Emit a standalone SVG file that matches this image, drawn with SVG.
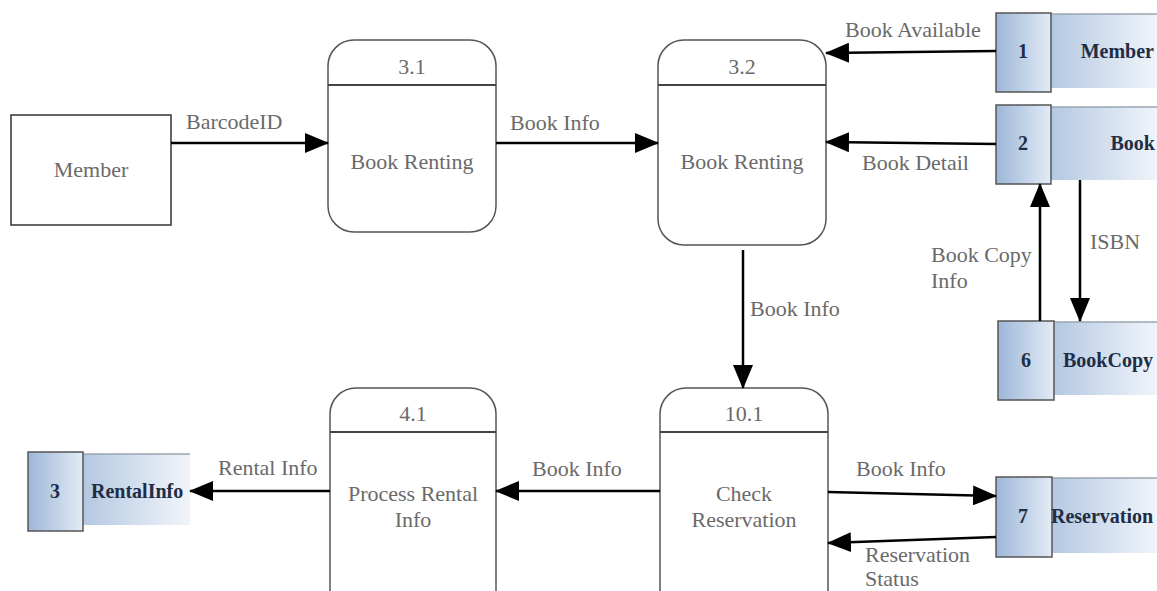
<svg xmlns="http://www.w3.org/2000/svg" width="1157" height="591" viewBox="0 0 1157 591">
<defs>
<linearGradient id="gs" x1="0" y1="0" x2="1" y2="0"><stop offset="0" stop-color="#9db7d8"/><stop offset="1" stop-color="#e3ebf5"/></linearGradient>
<linearGradient id="gl" x1="0" y1="0" x2="1" y2="0"><stop offset="0" stop-color="#b4c8e2"/><stop offset="1" stop-color="#f1f5fa"/></linearGradient>
<marker id="ah" markerWidth="24" markerHeight="20" refX="23" refY="10" orient="auto" markerUnits="userSpaceOnUse"><path d="M0,0 L24,10 L0,20 Z" fill="#000"/></marker>
<style>
.t{font-family:'Liberation Serif','Times New Roman','DejaVu Serif',serif;font-size:22px;fill:#6a6a6a}
.s{font-family:'Liberation Serif','Times New Roman','DejaVu Serif',serif;font-size:20px;font-weight:bold;fill:#1f2d45}
.p{fill:#fff;stroke:#555;stroke-width:1.5}
.d{stroke:#444;stroke-width:2}
.c{stroke:#000;stroke-width:2.5;fill:none;marker-end:url(#ah)}
.sb{fill:url(#gs);stroke:#555;stroke-width:1.5}
.sl{fill:url(#gl)}
.st{stroke:#9aa4b0;stroke-width:1.5}
</style>
</defs>
<rect width="1157" height="591" fill="#fff"/>
<g id="member">
<rect x="11" y="115" width="160" height="110" fill="#fff" stroke="#333" stroke-width="1.5"/>
<text class="t" x="91" y="177" text-anchor="middle">Member</text>
</g>
<g id="p31">
<rect class="p" x="328" y="40" width="168" height="192" rx="26"/>
<line class="d" x1="328" y1="85" x2="496" y2="85"/>
<text class="t" x="412" y="74" text-anchor="middle">3.1</text>
<text class="t" x="412" y="169" text-anchor="middle">Book Renting</text>
</g>
<g id="p32">
<rect class="p" x="658" y="40" width="168" height="205" rx="26"/>
<line class="d" x1="658" y1="85" x2="826" y2="85"/>
<text class="t" x="742" y="74" text-anchor="middle">3.2</text>
<text class="t" x="742" y="169" text-anchor="middle">Book Renting</text>
</g>
<g id="p41">
<rect class="p" x="330" y="388" width="166" height="240" rx="26"/>
<line class="d" x1="330" y1="432" x2="496" y2="432"/>
<text class="t" x="413" y="421" text-anchor="middle">4.1</text>
<text class="t" x="413" y="501" text-anchor="middle">Process Rental</text>
<text class="t" x="413" y="527" text-anchor="middle">Info</text>
</g>
<g id="p101">
<rect class="p" x="660" y="388" width="168" height="240" rx="26"/>
<line class="d" x1="660" y1="432" x2="828" y2="432"/>
<text class="t" x="744" y="421" text-anchor="middle">10.1</text>
<text class="t" x="744" y="501" text-anchor="middle">Check</text>
<text class="t" x="744" y="527" text-anchor="middle">Reservation</text>
</g>
<g id="s1">
<rect class="sl" x="1051" y="14" width="106" height="74"/>
<line class="st" x1="1051" y1="14" x2="1157" y2="14"/>
<rect class="sb" x="996" y="13" width="55" height="79"/>
<text class="s" x="1023" y="58" text-anchor="middle">1</text>
<text class="s" x="1154" y="58" text-anchor="end">Member</text>
</g>
<g id="s2">
<rect class="sl" x="1051" y="107" width="106" height="73"/>
<line class="st" x1="1051" y1="107" x2="1157" y2="107"/>
<rect class="sb" x="996" y="105" width="55" height="79"/>
<text class="s" x="1023" y="150" text-anchor="middle">2</text>
<text class="s" x="1155" y="150" text-anchor="end">Book</text>
</g>
<g id="s6">
<rect class="sl" x="1054" y="322" width="103" height="73"/>
<line class="st" x1="1054" y1="322" x2="1157" y2="322"/>
<rect class="sb" x="998" y="321" width="56" height="79"/>
<text class="s" x="1026" y="367" text-anchor="middle">6</text>
<text class="s" x="1063" y="367">BookCopy</text>
</g>
<g id="s7">
<rect class="sl" x="1052" y="478" width="105" height="75"/>
<line class="st" x1="1052" y1="478" x2="1157" y2="478"/>
<rect class="sb" x="996" y="477" width="56" height="80"/>
<text class="s" x="1023" y="523" text-anchor="middle">7</text>
<text class="s" x="1051" y="523">Reservation</text>
</g>
<g id="s3">
<rect class="sl" x="83" y="454" width="107" height="71"/>
<line class="st" x1="83" y1="454" x2="190" y2="454"/>
<rect class="sb" x="28" y="452" width="55" height="79"/>
<text class="s" x="55" y="498" text-anchor="middle">3</text>
<text class="s" x="91" y="498">RentalInfo</text>
</g>
<g id="connectors">
<line class="c" x1="171" y1="143" x2="328" y2="143"/>
<line class="c" x1="496" y1="143" x2="658" y2="143"/>
<line class="c" x1="996" y1="51" x2="826" y2="53"/>
<line class="c" x1="996" y1="144" x2="826" y2="142"/>
<line class="c" x1="743" y1="250" x2="743" y2="388"/>
<line class="c" x1="1040" y1="321" x2="1040" y2="184"/>
<line class="c" x1="1080" y1="180" x2="1080" y2="321"/>
<line class="c" x1="660" y1="491" x2="496" y2="491"/>
<line class="c" x1="330" y1="491" x2="190" y2="491"/>
<line class="c" x1="828" y1="492" x2="996" y2="496"/>
<line class="c" x1="996" y1="537" x2="828" y2="543"/>
<text class="t" x="186" y="129">BarcodeID</text>
<text class="t" x="510" y="130">Book Info</text>
<text class="t" x="845" y="37">Book Available</text>
<text class="t" x="862" y="170">Book Detail</text>
<text class="t" x="750" y="316">Book Info</text>
<text class="t" x="931" y="262">Book Copy</text>
<text class="t" x="931" y="288">Info</text>
<text class="t" x="1090" y="249">ISBN</text>
<text class="t" x="532" y="476">Book Info</text>
<text class="t" x="218" y="475">Rental Info</text>
<text class="t" x="856" y="476">Book Info</text>
<text class="t" x="865" y="562">Reservation</text>
<text class="t" x="865" y="586">Status</text>
</g>
</svg>
